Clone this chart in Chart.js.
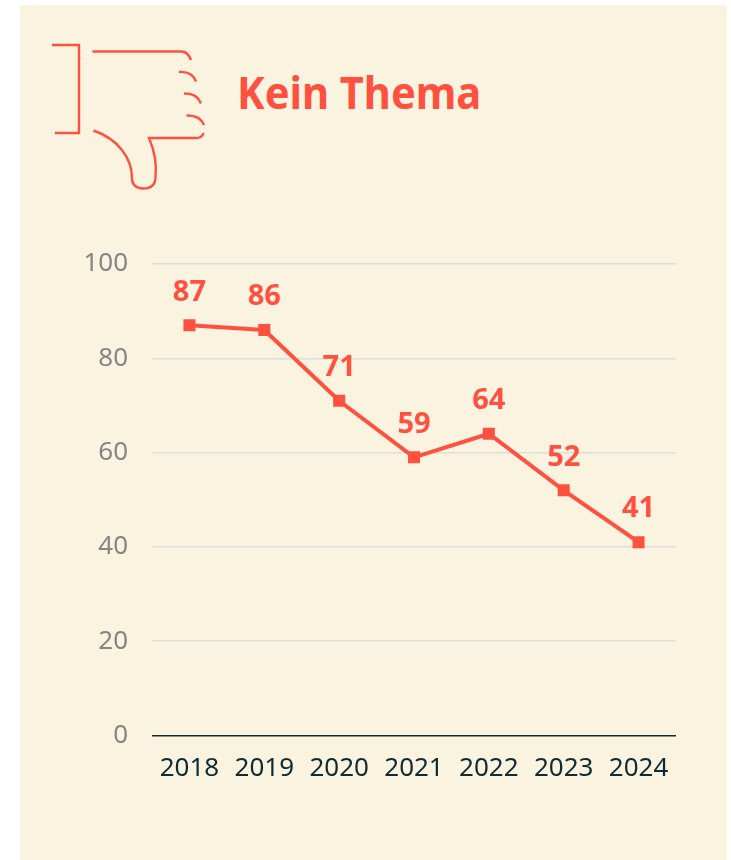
<!DOCTYPE html>
<html lang="de">
<head>
<meta charset="utf-8">
<title>Kein Thema</title>
<script src="https://cdn.jsdelivr.net/npm/chart.js@4"></script>
<style>
html,body{margin:0;padding:0;background:#fff;width:731px;height:860px;overflow:hidden}
#card{position:absolute;left:20px;top:5px;width:707px;height:855px;background:#FAF3DF}
#wrap{position:absolute;left:0;top:0;width:731px;height:860px}
#icon{position:absolute;left:0;top:0}
#title{position:absolute;left:237px;top:62px;font:700 45px/60px "Noto Sans",sans-serif;color:#FF5040;white-space:nowrap;transform-origin:0 50%;transform:scaleX(.925)}
</style>
</head>
<body>
<div id="card"></div>
<svg id="icon" width="731" height="220" fill="none" stroke="#FF5040" stroke-width="2.4">
<path d="M52 45H79V133H55"/>
<path d="M92.5 51.5H182Q188 52 191 60"/>
<path d="M179 72Q192 71 196 81.5"/>
<path d="M184 93.5Q197 93 201 103.5"/>
<path d="M186.5 115.5Q200 115 204 125"/>
<path d="M93.5 130.5C118 139 132 158 132 178Q132 188 143 188.500Q155.500 188.500 155.500 177C157 163 155 152 149 138H196Q202 138 203.500 133"/>
</svg>
<div id="title">Kein Thema</div>
<div id="wrap"><canvas id="c" width="731" height="860"></canvas></div>
<script>
const categories = ["2018","2019","2020","2021","2022","2023","2024"];
const values = [87,86,71,59,64,52,41];
const yTicks = [0,20,40,60,80,100];
const red = "#FF5040";

const valueLabels = {
  id: "valueLabels",
  afterDatasetsDraw(chart) {
    const ctx = chart.ctx;
    const pts = chart.getDatasetMeta(0).data;
    ctx.save();
    ctx.font = '700 29px "Noto Sans", sans-serif';
    ctx.fillStyle = red;
    ctx.textAlign = "center";
    ctx.textBaseline = "middle";
    pts.forEach((p, i) => ctx.fillText(String(values[i]), p.x, p.y - 33));
    ctx.restore();
  }
};

new Chart(document.getElementById("c"), {
  type: "line",
  data: {
    labels: categories,
    datasets: [{
      data: values,
      borderColor: red,
      backgroundColor: red,
      borderWidth: 4,
      tension: 0,
      pointStyle: "rect",
      pointRadius: 8.5,
      pointBackgroundColor: red,
      pointBorderWidth: 0
    }]
  },
  options: {
    responsive: false,
    animation: false,
    layout: { padding: { top: 264, right: 55, left: 0, bottom: 0 } },
    plugins: { legend: { display: false }, tooltip: { enabled: false }, title: { display: false } },
    scales: {
      x: {
        offset: true,
        afterFit(s) { s.height = 124.5; },
        border: { display: false },
        grid: { display: false },
        ticks: { color: "#0F2B33", font: { family: '"Noto Sans", sans-serif', size: 26 }, padding: 9, maxRotation: 0, autoSkip: false }
      },
      y: {
        min: 0, max: 100,
        afterFit(s) { s.width = 152; },
        afterBuildTicks(s) { s.ticks = yTicks.map(v => ({ value: v })); },
        border: { display: false },
        grid: {
          drawTicks: false,
          lineWidth: 1.5,
          color: c => c.tick && c.tick.value === 0 ? "#0F2B33" : "#DEDEDA"
        },
        ticks: { color: "#858585", font: { family: '"Noto Sans", sans-serif', size: 26 }, padding: 24 }
      }
    }
  },
  plugins: [valueLabels]
});
</script>
</body>
</html>
